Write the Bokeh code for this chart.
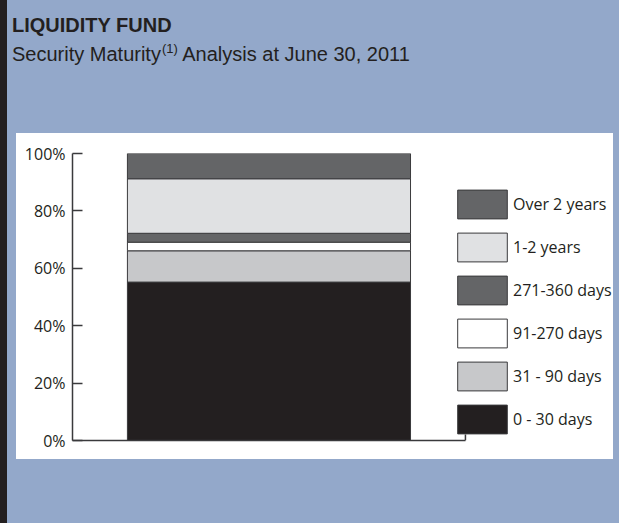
from bokeh.plotting import figure
from bokeh.models import (Range1d, FixedTicker, Legend, LegendItem, ColumnDataSource,
                          PrintfTickFormatter, Div, Spacer)
from bokeh.layouts import row, column
from bokeh.embed import file_html
from bokeh.resources import INLINE

# ---- data ----
categories = ["0 - 30 days", "31 - 90 days", "91-270 days",
              "271-360 days", "1-2 years", "Over 2 years"]
keys = ["d0_30", "d31_90", "d91_270", "d271_360", "y1_2", "y2p"]
values = [55.2, 10.9, 3.0, 3.1, 19.0, 8.8]
colors = ["#231F20", "#C7C8CA", "#FFFFFF", "#646567", "#E0E1E3", "#646567"]
y_ticks = [0, 20, 40, 60, 80, 100]
title_text = "LIQUIDITY FUND"
subtitle_a = "Security Maturity"
subtitle_sup = "(1)"
subtitle_b = "Analysis at June 30, 2011"

BLUE = "#93A8CA"
INK = "#231F20"
LINE = "#3a3a3c"
FONT = "Open Sans"

XB = 0.694  # half-extent of the x axis, in bar widths

p = figure(width=597, height=326, output_backend="svg", toolbar_location=None,
           x_range=Range1d(-XB, 1.217), y_range=Range1d(0, 100),
           min_border_left=56, min_border_right=0, min_border_top=20,
           min_border_bottom=19)
p.border_fill_color = "white"
p.background_fill_color = "white"
p.outline_line_color = None
p.grid.visible = False

src = ColumnDataSource(dict(x=[0.0], **{k: [v] for k, v in zip(keys, values)}))
rs = p.vbar_stack(keys, x="x", width=1.0, source=src, color=colors, line_width=1)
for r, c in zip(rs, colors):
    r.glyph.fill_color = c
    r.glyph.line_color = LINE

# y axis
ya = p.yaxis[0]
ya.ticker = FixedTicker(ticks=y_ticks)
ya.formatter = PrintfTickFormatter(format="%d%%")
ya.major_tick_in = 10
ya.major_tick_out = 0
ya.minor_tick_line_color = None
ya.major_label_standoff = 7
ya.major_label_text_font = FONT
ya.major_label_text_font_size = "16px"
ya.major_label_text_color = INK
ya.axis_line_color = LINE
ya.axis_line_width = 1.5
ya.major_tick_line_color = LINE
ya.major_tick_line_width = 1.5

# x axis (no labels, bounded, small end tick)
xa = p.xaxis[0]
xa.bounds = (-XB, XB)
xa.ticker = FixedTicker(ticks=[])
xa.minor_tick_line_color = None
xa.major_tick_line_color = None
xa.axis_line_color = LINE
xa.axis_line_width = 1.5
p.ray(x=[XB], y=[0], length=6, length_units="screen", angle=90,
      angle_units="deg", line_color=LINE, line_width=1.5)

# legend
items = [LegendItem(label=lab, renderers=[r]) for lab, r in zip(categories, rs)][::-1]
legend = Legend(items=items, location=(379, 3), orientation="vertical",
                glyph_width=62, glyph_height=36, spacing=7, padding=0, margin=0,
                label_standoff=-3, label_height=36,
                label_text_font=FONT, label_text_font_size="16px",
                label_text_color=INK, border_line_color=None,
                background_fill_alpha=0)
p.add_layout(legend)

title_html = (
    '<div style="font-family: \'Liberation Sans\', Arial, sans-serif; color: %s; '
    'padding: 11px 0 0 5px; line-height: 29px; font-size: 20px;">'
    '<div style="font-weight: bold;">%s</div>'
    '<div>%s<span style="font-size: 13px; position: relative; top: -8px; '
    'margin-left: 1px;">%s</span> %s</div></div>'
) % (INK, title_text, subtitle_a, subtitle_sup, subtitle_b)

title = Div(text=title_html, width=612, height=133,
            styles={"background-color": BLUE, "margin": "0", "overflow": "hidden"})

left_pad = Spacer(width=9, height=326, styles={"background-color": BLUE})
right_pad = Spacer(width=6, height=326, styles={"background-color": BLUE})
bottom_pad = Spacer(width=612, height=64, styles={"background-color": BLUE})
dark_bar = Spacer(width=7, height=523, styles={"background-color": INK})

layout = row(dark_bar,
             column(title, row(left_pad, p, right_pad, spacing=0), bottom_pad,
                    spacing=0),
             spacing=0)

open("out.html", "w").write(file_html(layout, INLINE))
